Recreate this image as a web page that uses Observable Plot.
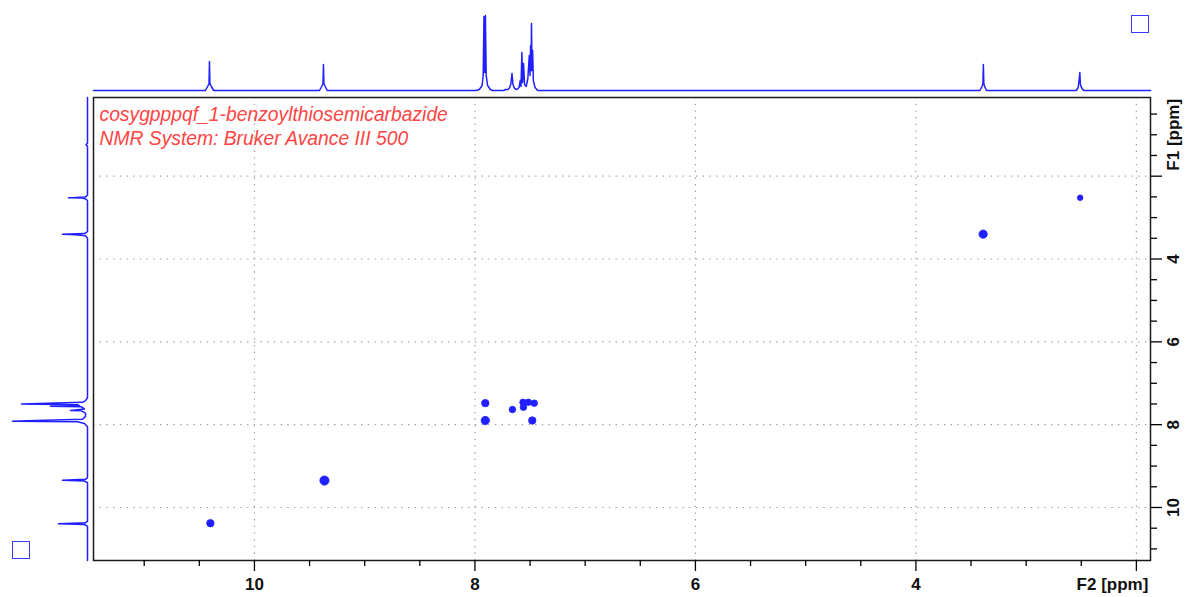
<!DOCTYPE html>
<html>
<head>
<meta charset="utf-8">
<script src="https://cdn.jsdelivr.net/npm/d3@7"></script>
<script src="https://cdn.jsdelivr.net/npm/@observablehq/plot@0.6"></script>
<style>
  html, body { margin: 0; padding: 0; background: #fff; }
  #chart { position: relative; width: 1186px; height: 597px; overflow: hidden; font-family: "Liberation Sans", Arial, sans-serif; }
  #chart svg { position: absolute; left: 0; top: 0; background: transparent; overflow: visible; }
  .icon { position: absolute; width: 16px; height: 16px; border: 1.5px solid #3a3aff; box-sizing: content-box; }
</style>
</head>
<body>
<div id="chart"></div>
<script>
// ---- data ----
const titleLines = ["cosygpppqf_1-benzoylthiosemicarbazide", "NMR System: Bruker Avance III 500"];
const f2Domain = [11.46, 1.872];   // ppm, left to right
const f1Domain = [0.10, 11.28];    // ppm, top to bottom
const f2Major = [10, 8, 6, 4, 2];
const f2Minor = [11, 10.5, 9.5, 9, 8.5, 7.5, 7, 6.5, 5.5, 5, 4.5, 3.5, 3, 2.5];
const f1Major = [2, 4, 6, 8, 10];
const f1Minor = [0.5, 1, 1.5, 2.5, 3, 3.5, 4.5, 5, 5.5, 6.5, 7, 7.5, 8.5, 9, 9.5, 10.5, 11];
const f2Labels = [10, 8, 6, 4];
const f1Labels = [4, 6, 8, 10];
const f2Unit = "F2 [ppm]";
const f1Unit = "F1 [ppm]";
const f1UnitAt = 1.0;   // ppm position of the F1 unit label

// top (F2) projection trace: ppm, intensity
const topPpm = [11.46, 10.445, 10.425, 10.412, 10.408, 10.404, 10.391, 10.37,
  9.41, 9.39, 9.378, 9.374, 9.37, 9.358, 9.34,
  7.99, 7.96, 7.935, 7.925, 7.918, 7.912, 7.905, 7.898, 7.885, 7.86, 7.84,
  7.74, 7.72, 7.70, 7.69, 7.675, 7.664, 7.655, 7.64, 7.62, 7.60, 7.589, 7.582, 7.574, 7.568, 7.559, 7.55, 7.535,
  7.52, 7.507, 7.50, 7.495, 7.49, 7.487, 7.482, 7.477, 7.47, 7.455, 7.43,
  3.42, 3.40, 3.392, 3.388, 3.384, 3.376, 3.36,
  2.545, 2.528, 2.518, 2.513, 2.508, 2.498, 2.48, 1.872];
const topInt = [0, 0, 4, 7, 29, 7, 4, 0,
  0, 4, 7, 26, 7, 4, 0,
  0, 1, 5, 15, 74, 18, 75, 15, 5, 1, 0,
  0, 1, 1, 2, 6, 17, 6, 2, 1, 3, 10, 4, 38, 8, 27, 6, 4,
  12, 35, 15, 45, 20, 67, 20, 40, 10, 3, 0,
  0, 4, 7, 26, 7, 4, 0,
  0, 3, 12, 18, 6, 3, 0, 0];

// left (F1) projection trace: ppm, intensity
const leftPpm = [0.10, 1.20, 1.24, 1.28,
  2.46, 2.50, 2.515, 2.52, 2.525, 2.56, 2.60,
  3.34, 3.385, 3.405, 3.415, 3.44, 3.50,
  7.35, 7.42, 7.46, 7.48, 7.50, 7.52, 7.545, 7.556, 7.57, 7.62, 7.655, 7.665, 7.72, 7.80, 7.87, 7.905, 7.915, 7.93, 7.97, 8.05,
  9.28, 9.32, 9.345, 9.36, 9.40,
  10.33, 10.37, 10.395, 10.41, 10.45, 11.28];
const leftInt = [0, 0, 1.5, 0,
  0, 2, 12, 19, 5, 1, 0,
  0, 3, 25, 12, 2, 0,
  0, 2, 5, 40, 66, 10, 8, 37, 6, 3, 17, 6, 2, 2, 5, 60, 75, 10, 3, 0,
  0, 2, 25, 3, 0,
  0, 2, 29, 3, 0, 0];

// cross peaks: F2 ppm, F1 ppm, relative contour level
const crossF2 = [10.40, 9.365, 3.39, 2.51, 7.906, 7.906, 7.66, 7.564, 7.516, 7.462, 7.56, 7.48];
const crossF1 = [10.38, 9.35, 3.40, 2.52, 7.48, 7.90, 7.635, 7.46, 7.46, 7.48, 7.58, 7.90];
const crossLevel = [2, 3, 2.5, 1, 2, 2.5, 1.5, 1.5, 1.5, 1.5, 1.5, 2];

// ---- build ----
const W = 1186, H = 597;
const blue = "#1f1fff";
const topData = topPpm.map((p, i) => ({ppm: p, v: topInt[i]}));
const leftData = leftPpm.map((p, i) => ({ppm: p, v: leftInt[i]}));
const cross = crossF2.map((x, i) => ({f2: x, f1: crossF1[i], level: crossLevel[i]}));

const mainMargins = {marginLeft: 93, marginRight: W - 1150, marginTop: 97, marginBottom: H - 560};
const labelFont = {fontSize: 17, fontWeight: "bold", fontFamily: "'Liberation Sans', Arial, sans-serif", fill: "#111"};

const mainPlot = Plot.plot({
  width: W, height: H, ...mainMargins,
  style: {background: "transparent", overflow: "visible"},
  x: {domain: f2Domain, axis: null},
  y: {domain: f1Domain, reverse: true, axis: null},
  r: {type: "linear", domain: [1, 3], range: [2.8, 4.6]},
  marks: [
    Plot.gridX(f2Major, {stroke: "#9a9a9a", strokeOpacity: 1, strokeWidth: 1.2, strokeDasharray: "1.3,5.4"}),
    Plot.gridY(f1Major, {stroke: "#9a9a9a", strokeOpacity: 1, strokeWidth: 1.2, strokeDasharray: "1.3,5.4"}),
    Plot.dot(cross, {x: "f2", y: "f1", r: "level", fill: blue, stroke: blue, strokeWidth: 0.8}),
    Plot.frame({stroke: "#1a1a1a", strokeWidth: 1.5}),
    Plot.axisX(f2Minor, {anchor: "bottom", tickSize: 6, tickFormat: () => "", label: null, strokeWidth: 1.3}),
    Plot.axisX(f2Major, {anchor: "bottom", tickSize: 11, tickFormat: () => "", label: null, strokeWidth: 1.3}),
    Plot.axisY(f1Minor, {anchor: "right", tickSize: 6, tickFormat: () => "", label: null, strokeWidth: 1.3}),
    Plot.axisY(f1Major, {anchor: "right", tickSize: 11, tickFormat: () => "", label: null, strokeWidth: 1.3}),
    Plot.text(f2Labels, {x: d => d, frameAnchor: "bottom", dy: 24, lineAnchor: "middle", textAnchor: "middle", ...labelFont}),
    Plot.text([f2Unit], {x: () => f2Major[f2Major.length - 1], frameAnchor: "bottom", dy: 24, dx: 12, lineAnchor: "middle", textAnchor: "end", ...labelFont}),
    Plot.text(f1Labels, {y: d => d, frameAnchor: "right", dx: 23, rotate: -90, lineAnchor: "middle", textAnchor: "middle", ...labelFont}),
    Plot.text([f1Unit], {y: () => f1UnitAt, frameAnchor: "right", dx: 23, rotate: -90, lineAnchor: "middle", textAnchor: "middle", ...labelFont}),
    Plot.text([titleLines.join("\n")], {frameAnchor: "top-left", dx: 6, dy: 7, lineAnchor: "top", textAnchor: "start",
      fill: "#ff4444", fontStyle: "italic", fontSize: 19.3, lineHeight: 1.22, fontFamily: "'Liberation Sans', Arial, sans-serif"})
  ]
});

const topPlot = Plot.plot({
  width: W, height: H, marginLeft: 93, marginRight: W - 1150, marginTop: 15, marginBottom: H - 90,
  style: {background: "transparent", overflow: "visible"},
  x: {domain: f2Domain, axis: null},
  y: {domain: [0, 75], axis: null},
  marks: [
    Plot.line(topData, {x: "ppm", y: "v", stroke: blue, strokeWidth: 1.5, curve: "linear"})
  ]
});

const leftPlot = Plot.plot({
  width: W, height: H, marginLeft: 7, marginRight: W - 87, marginTop: 97, marginBottom: H - 560,
  style: {background: "transparent", overflow: "visible"},
  x: {domain: [0, 80], reverse: true, axis: null},
  y: {domain: f1Domain, reverse: true, axis: null},
  marks: [
    Plot.line(leftData, {x: "v", y: "ppm", stroke: blue, strokeWidth: 1.5, curve: "linear"})
  ]
});

const chartEl = document.getElementById("chart");
chartEl.append(mainPlot, topPlot, leftPlot);
const icons = [[1131, 15], [12, 541]];
for (const [l, t] of icons) {
  const d = document.createElement("div");
  d.className = "icon";
  d.style.left = l + "px"; d.style.top = t + "px";
  chartEl.append(d);
}
</script>
</body>
</html>
